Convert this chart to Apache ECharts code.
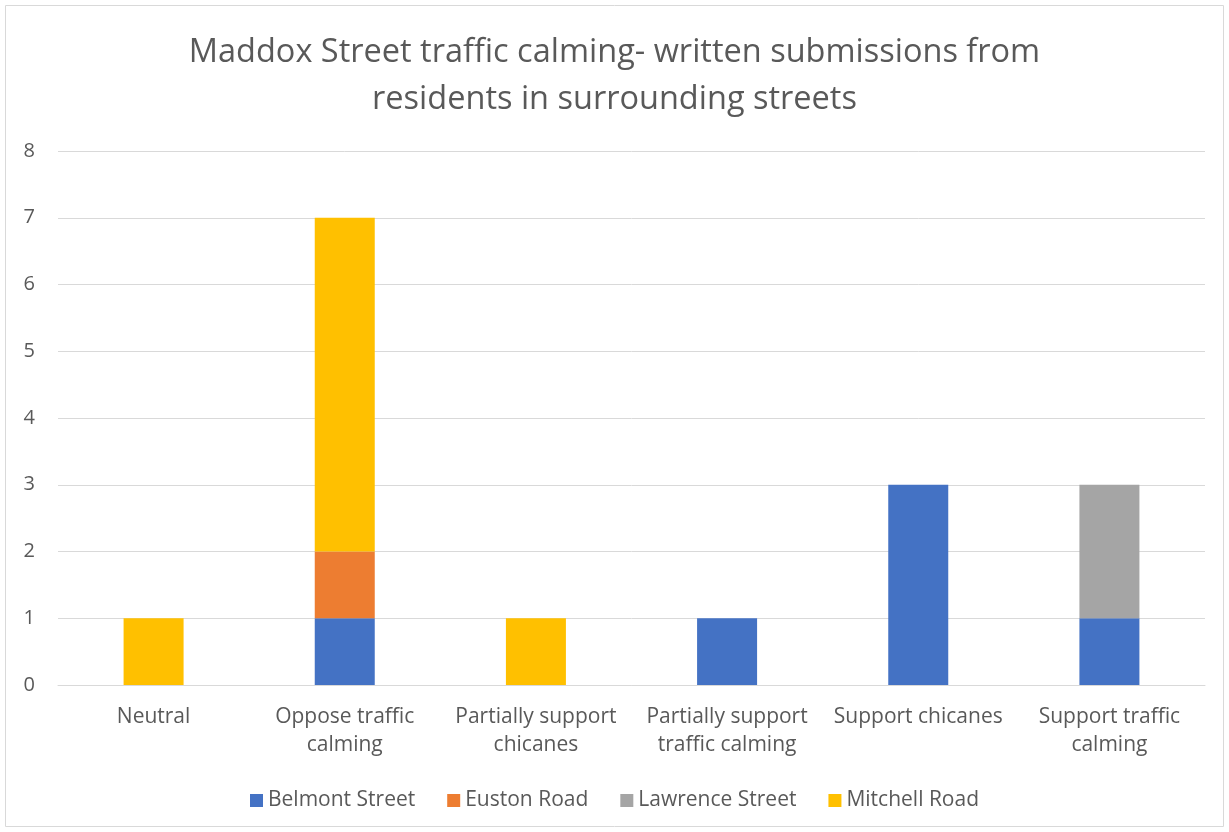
<!DOCTYPE html>
<html>
<head>
<meta charset="utf-8">
<script src="https://cdn.jsdelivr.net/npm/echarts@6/dist/echarts.min.js"></script>
<style>
  html, body { margin: 0; padding: 0; background: #fff; }
  #chart { width: 1229px; height: 832px; }
</style>
</head>
<body>
<div id="chart"></div>
<script>
// Response categories (x axis)
const categories = [
  'Neutral',
  'Oppose traffic\ncalming',
  'Partially support\nchicanes',
  'Partially support\ntraffic calming',
  'Support chicanes',
  'Support traffic\ncalming'
];

// Submissions per street, one entry per category
const belmontStreet   = [0, 1, 0, 1, 3, 1];
const eustonRoad      = [0, 1, 0, 0, 0, 0];
const lawrenceStreet  = [0, 0, 0, 0, 0, 2];
const mitchellRoad    = [1, 5, 1, 0, 0, 0];

const seriesNames = ['Belmont Street', 'Euston Road', 'Lawrence Street', 'Mitchell Road'];
const seriesData = [belmontStreet, eustonRoad, lawrenceStreet, mitchellRoad];
const seriesColors = ['#4472C4', '#ED7D31', '#A5A5A5', '#FFC000'];

const FONT = '"Open Sans", "Noto Sans", sans-serif';

const chart = echarts.init(document.getElementById('chart'), null, { renderer: 'canvas' });

chart.setOption({
  animation: false,
  textStyle: { fontFamily: FONT },
  graphic: [{
    type: 'rect',
    shape: { x: 5.5, y: 5.5, width: 1218, height: 821 },
    style: { fill: 'none', stroke: '#d9d9d9', lineWidth: 1 },
    silent: true,
    z: -1
  }],
  title: {
    text: 'Maddox Street traffic calming- written submissions from\nresidents in surrounding streets',
    left: 'center',
    top: 24,
    textStyle: {
      fontFamily: FONT,
      fontSize: 32.5,
      fontWeight: 'normal',
      color: '#595959',
      lineHeight: 47
    }
  },
  legend: {
    bottom: 16,
    left: 'center',
    itemWidth: 13,
    itemHeight: 13,
    itemGap: 32,
    icon: 'rect',
    textStyle: { fontFamily: FONT, fontSize: 21, color: '#595959' },
    data: seriesNames
  },
  grid: {
    left: 58,
    right: 24,
    top: 151,
    bottom: 147
  },
  xAxis: {
    type: 'category',
    data: categories,
    axisLine: { show: true, lineStyle: { color: '#d9d9d9', width: 1 } },
    axisTick: { show: false },
    axisLabel: {
      fontFamily: FONT,
      fontSize: 21,
      color: '#595959',
      lineHeight: 28,
      margin: 18,
      interval: 0
    }
  },
  yAxis: {
    type: 'value',
    min: 0,
    max: 8,
    interval: 1,
    axisLine: { show: false },
    axisTick: { show: false },
    splitLine: { lineStyle: { color: '#d9d9d9', width: 1 } },
    axisLabel: {
      fontFamily: FONT,
      fontSize: 20,
      color: '#595959',
      margin: 23
    }
  },
  series: seriesNames.map((name, i) => ({
    name: name,
    type: 'bar',
    stack: 'total',
    barWidth: 60,
    data: seriesData[i].map(v => (v === 0 ? null : v)),
    itemStyle: { color: seriesColors[i] }
  }))
});
</script>
</body>
</html>
